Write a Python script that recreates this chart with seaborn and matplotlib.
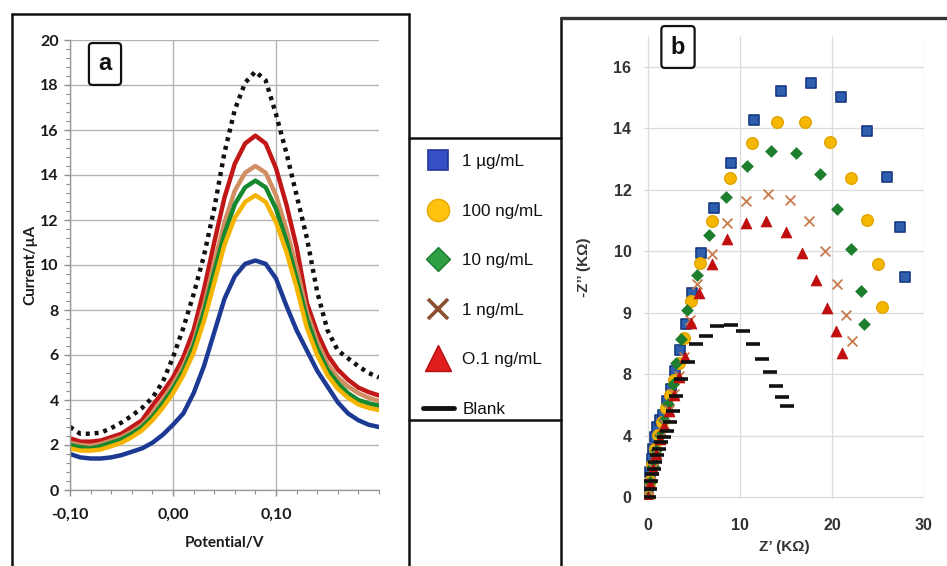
import numpy as np
import pandas as pd
import matplotlib
matplotlib.use('Agg')
import matplotlib.pyplot as plt
from matplotlib.lines import Line2D
from matplotlib.ticker import MultipleLocator
import seaborn as sns

# ---- data: panel a (DPV) ----
series_names = ['1 µg/mL', '100 ng/mL', '10 ng/mL', '1 ng/mL', 'O.1 ng/mL', 'Blank']
potential = [-0.10, -0.09, -0.08, -0.07, -0.06, -0.05, -0.04, -0.03, -0.02, -0.01,
             0.00, 0.01, 0.02, 0.03, 0.04, 0.05, 0.06, 0.07, 0.08, 0.09,
             0.10, 0.11, 0.12, 0.13, 0.14, 0.15, 0.16, 0.17, 0.18, 0.19, 0.20]
cur_1ug = [1.60, 1.45, 1.40, 1.40, 1.45, 1.55, 1.70, 1.85, 2.10, 2.45,
           2.90, 3.40, 4.30, 5.50, 7.00, 8.50, 9.50, 10.05, 10.20, 10.05,
           9.40, 8.20, 7.10, 6.20, 5.30, 4.60, 3.90, 3.40, 3.10, 2.90, 2.80]
cur_100ng = [1.85, 1.75, 1.75, 1.80, 1.95, 2.10, 2.35, 2.65, 3.10, 3.65,
             4.30, 5.10, 6.10, 7.50, 9.20, 10.90, 12.10, 12.80, 13.10, 12.80,
             11.90, 10.60, 9.00, 7.20, 6.00, 5.10, 4.50, 4.10, 3.80, 3.65, 3.55]
cur_10ng = [2.00, 1.90, 1.85, 1.95, 2.10, 2.25, 2.50, 2.80, 3.25, 3.85,
            4.50, 5.30, 6.40, 7.90, 9.70, 11.40, 12.70, 13.45, 13.75, 13.45,
            12.50, 11.10, 9.40, 7.60, 6.30, 5.35, 4.75, 4.30, 4.00, 3.85, 3.75]
cur_1ng = [2.10, 2.00, 1.95, 2.05, 2.20, 2.35, 2.60, 2.90, 3.40, 4.00,
           4.70, 5.50, 6.60, 8.20, 10.10, 11.90, 13.30, 14.10, 14.40, 14.10,
           13.10, 11.60, 9.90, 7.90, 6.60, 5.60, 5.00, 4.60, 4.30, 4.10, 3.95]
cur_01ng = [2.30, 2.15, 2.15, 2.20, 2.35, 2.50, 2.80, 3.10, 3.75, 4.35,
            5.00, 5.90, 7.10, 8.90, 11.00, 13.00, 14.50, 15.40, 15.75, 15.40,
            14.30, 12.70, 10.80, 8.30, 7.00, 6.00, 5.35, 4.90, 4.55, 4.35, 4.20]
cur_blank = [2.80, 2.50, 2.50, 2.55, 2.75, 3.00, 3.30, 3.65, 4.10, 4.80,
             5.90, 7.20, 8.70, 10.40, 12.50, 15.00, 16.90, 18.10, 18.60, 18.20,
             16.70, 15.00, 13.10, 11.20, 8.80, 7.10, 6.20, 5.85, 5.50, 5.20, 5.00]
pot_ticks = [-0.10, 0.00, 0.10]
pot_labels = ['-0,10', '0,00', '0,10']
cur_ticks = [0, 2, 4, 6, 8, 10, 12, 14, 16, 18, 20]

# ---- data: panel b (Nyquist) ----
zre_1ug = [0, 0.1, 0.25, 0.4, 0.55, 0.72, 0.95, 1.25, 1.62, 2.05, 2.52, 2.9, 3.44, 4.09,
           4.82, 5.8, 7.14, 9.06, 11.52, 14.49, 17.75, 21.0, 23.8, 26.0, 27.36, 27.9]
zim_1ug = [0, 0.45, 0.95, 1.4, 1.8, 2.25, 2.6, 2.85, 3.06, 3.56, 4.03, 4.69, 5.48, 6.43,
           7.57, 9.06, 10.74, 12.43, 14.02, 15.08, 15.39, 14.89, 13.6, 11.91, 10.03, 8.18]
zre_100ng = [0, 0.2, 0.45, 0.75, 1.1, 1.5, 1.95, 2.4, 2.85, 3.35, 3.9, 4.71, 5.69, 6.99,
             8.88, 11.3, 14.06, 17.03, 19.82, 22.1, 23.84, 25.0, 25.47]
zim_100ng = [0, 0.6, 1.2, 1.8, 2.3, 2.8, 3.3, 3.8, 4.35, 5.0, 5.9, 7.3, 8.72, 10.27,
             11.86, 13.17, 13.94, 13.96, 13.21, 11.86, 10.3, 8.65, 7.06]
zre_10ng = [0, 0.2, 0.5, 0.85, 1.25, 1.7, 2.2, 2.65, 3.06, 3.6, 4.28, 5.33, 6.63, 8.51,
            10.8, 13.41, 16.12, 18.66, 20.58, 22.1, 23.12, 23.48]
zim_10ng = [0, 0.55, 1.15, 1.75, 2.3, 2.85, 3.45, 4.2, 5.0, 5.89, 6.97, 8.25, 9.73, 11.15,
            12.29, 12.87, 12.79, 12.02, 10.7, 9.22, 7.67, 6.43]
zre_1ng = [0, 0.25, 0.55, 0.9, 1.3, 1.75, 2.25, 2.8, 3.4, 3.95, 4.53, 5.36, 6.96, 8.62,
           10.69, 13.04, 15.4, 17.5, 19.28, 20.58, 21.56, 22.17]
zim_1ng = [0, 0.55, 1.1, 1.65, 2.2, 2.7, 3.25, 3.85, 4.5, 5.2, 6.6, 7.91, 9.02, 10.18,
           11.01, 11.28, 11.05, 10.27, 9.16, 7.91, 6.77, 5.82]
zre_01ng = [0, 0.25, 0.55, 0.9, 1.3, 1.75, 2.25, 2.8, 3.4, 4.0, 4.64, 5.54, 6.92, 8.62,
            10.69, 12.86, 14.96, 16.78, 18.3, 19.49, 20.47, 21.12]
zim_01ng = [0, 0.5, 1.05, 1.6, 2.15, 2.65, 3.2, 3.8, 4.45, 5.2, 6.46, 7.57, 8.65, 9.6,
            10.2, 10.28, 9.84, 9.08, 8.07, 7.03, 6.16, 5.35]
zre_blank = [0.05, 0.15, 0.3, 0.45, 0.6, 0.8, 1.0, 1.2, 1.45, 1.7, 2.0, 2.35, 2.7, 3.05,
             3.6, 4.3, 5.25, 6.3, 7.5, 9.0, 10.3, 11.4, 12.4, 13.3, 13.95, 14.6, 15.1]
zim_blank = [0.0, 0.3, 0.6, 0.85, 1.05, 1.3, 1.55, 1.8, 2.05, 2.25, 2.45, 2.8, 3.2, 3.75,
             4.4, 5.03, 5.69, 6.0, 6.37, 6.4, 6.18, 5.7, 5.15, 4.64, 4.12, 3.73, 3.37]
zre_ticks = [0, 10, 20, 30]
zim_tick_labels = ['0', '4', '8', '9', '10', '12', '14', '16']

# ---- styling ----
dpv_colors = {'1 µg/mL': '#1c3a94', '100 ng/mL': '#f4b400', '10 ng/mL': '#16882e',
              '1 ng/mL': '#d08e62', 'O.1 ng/mL': '#c21717', 'Blank': '#111111'}
dpv_dashes = {'1 µg/mL': '', '100 ng/mL': '', '10 ng/mL': '', '1 ng/mL': '',
              'O.1 ng/mL': '', 'Blank': (0.9, 1.1)}
eis_style = {
    '1 µg/mL':   dict(marker='s', color='#2d5fae', edgecolor='#173a82', s=62, linewidth=1.2),
    '100 ng/mL': dict(marker='o', color='#f5b700', edgecolor='#e3a400', s=70, linewidth=1.0),
    '10 ng/mL':  dict(marker='D', color='#1e7e2f', edgecolor='#1e7e2f', s=36, linewidth=0.5),
    '1 ng/mL':   dict(marker='x', color='#c97b4c', s=50, linewidth=1.3),
    'O.1 ng/mL': dict(marker='^', color='#c00d0d', edgecolor='#c00d0d', s=62, linewidth=0.5),
    'Blank':     dict(marker='_', color='#111111', s=90, linewidth=2.6),
}

sns.set_theme(style='white')
plt.rcParams['font.family'] = ['Liberation Sans', 'DejaVu Sans']

W, H = 947, 566
fig = plt.figure(figsize=(W / 100, H / 100), dpi=100)


def fx(px):
    return px / W


def fy(py):
    return 1 - py / H


# ---------------- panel a ----------------
dpv_values = [cur_1ug, cur_100ng, cur_10ng, cur_1ng, cur_01ng, cur_blank]
rows = []
for name, vals in zip(series_names, dpv_values):
    for p, c in zip(potential, vals):
        rows.append((name, p, c))
dpv = pd.DataFrame(rows, columns=['series', 'potential', 'current'])

axa = fig.add_axes([fx(70), fy(490), fx(379) - fx(70), fy(40) - fy(490)])
sns.lineplot(data=dpv, x='potential', y='current', hue='series', style='series',
             hue_order=series_names[::-1], style_order=series_names[::-1],
             palette=dpv_colors, dashes=dpv_dashes, linewidth=3.2,
             legend=False, sort=False, ax=axa)
axa.set_xlim(-0.10, 0.20)
axa.set_ylim(0, 20)
axa.set_xticks(pot_ticks)
axa.set_xticklabels(pot_labels)
axa.set_yticks(cur_ticks)
axa.xaxis.set_minor_locator(MultipleLocator(0.02))
axa.yaxis.set_minor_locator(MultipleLocator(0.4))
axa.grid(True, which='major', color='#b4b4b4', lw=1.0)
axa.set_axisbelow(True)
for s in ['top', 'right']:
    axa.spines[s].set_visible(False)
for s in ['left', 'bottom']:
    axa.spines[s].set_color('#999999')
    axa.spines[s].set_linewidth(1.0)
axa.tick_params(axis='both', which='both', direction='out', color='#8c8c8c',
                bottom=True, left=True, labelsize=11.5, labelcolor='#1a1a1a')
axa.tick_params(axis='x', pad=9)
axa.tick_params(axis='y', pad=4)
axa.tick_params(which='major', length=4, width=1)
axa.tick_params(which='minor', length=3, width=0.8)
for lab in axa.get_xticklabels() + axa.get_yticklabels():
    lab.set_family(['Lato', 'DejaVu Sans'])
    lab.set_fontweight('bold')
axa.set_xlabel('Potential/V', fontsize=11, fontweight='bold', family=['Lato', 'DejaVu Sans'],
               color='#1a1a1a', labelpad=10)
axa.set_ylabel('Current/µA', fontsize=11, fontweight='bold', family=['Lato', 'DejaVu Sans'],
               color='#1a1a1a', labelpad=2)

# ---------------- panel b ----------------
eis_data = [(zre_1ug, zim_1ug), (zre_100ng, zim_100ng), (zre_10ng, zim_10ng),
            (zre_1ng, zim_1ng), (zre_01ng, zim_01ng), (zre_blank, zim_blank)]
axb = fig.add_axes([fx(644), fy(499), fx(924) - fx(644), fy(36) - fy(499)])
for name, (xr, yi) in zip(series_names, eis_data):
    sns.scatterplot(x=xr, y=yi, ax=axb, legend=False, zorder=3, **eis_style[name])
axb.set_xlim(-0.45, 30)
axb.set_ylim(-0.07, 17.14)
axb.set_xticks(zre_ticks)
zim_pos = [i * 16 / 7 for i in range(len(zim_tick_labels))]
axb.set_yticks(zim_pos)
axb.set_yticklabels(zim_tick_labels)
axb.grid(True, color='#dcdcdc', lw=0.9)
axb.set_axisbelow(True)
for s in axb.spines.values():
    s.set_visible(False)
axb.tick_params(axis='both', length=0, labelsize=11.5, labelcolor='#333333')
axb.tick_params(axis='x', pad=14)
axb.tick_params(axis='y', pad=9)
for lab in axb.get_xticklabels() + axb.get_yticklabels():
    lab.set_fontweight('bold')
axb.set_xlabel('Z’ (KΩ)', fontsize=11, fontweight='bold', color='#333333', labelpad=5)
axb.set_ylabel('-Z’’ (KΩ)', fontsize=11, fontweight='bold', color='#333333', labelpad=16)

# ---------------- panel letters ----------------
for txt, px, py in [('a', 105, 64), ('b', 678, 47)]:
    fig.text(fx(px), fy(py), txt, ha='center', va='center', fontsize=17, fontweight='bold',
             color='#111111',
             bbox=dict(boxstyle='round,pad=0.4,rounding_size=0.15', fc='white', ec='#111111', lw=1.6))

# ---------------- frames ----------------
def hline(y, x0, x1, lw=1.8, color='#111111'):
    fig.add_artist(Line2D([fx(x0), fx(x1)], [fy(y), fy(y)], color=color, lw=lw,
                          transform=fig.transFigure))


def vline(x, y0, y1, lw=1.8, color='#111111'):
    fig.add_artist(Line2D([fx(x), fx(x)], [fy(y0), fy(y1)], color=color, lw=lw,
                          transform=fig.transFigure))


vline(12, 14, 566)
hline(14, 12, 409)
vline(409, 14, 566)
hline(138, 409, 561)
hline(420, 409, 561)
vline(561, 18, 566)
hline(18, 561, 947, lw=2.4, color='#333333')

# ---------------- legend ----------------
handles = [
    Line2D([], [], ls='none', marker='s', ms=14, mfc='#3550c4', mec='#24349a', mew=1.2),
    Line2D([], [], ls='none', marker='o', ms=16, mfc='#ffc20e', mec='#e8a800', mew=1.0),
    Line2D([], [], ls='none', marker='D', ms=12, mfc='#2ea043', mec='#1e7a30', mew=1.0),
    Line2D([], [], ls='none', marker='x', ms=15, mec='#8c5030', mew=2.6),
    Line2D([], [], ls='none', marker='^', ms=19, mfc='#e01e1e', mec='#b51010', mew=1.0),
    Line2D([], [], ls='-', lw=3.5, color='#111111'),
]
fig.legend(handles, series_names, loc='upper left', bbox_to_anchor=(fx(423), fy(154)),
           frameon=False, fontsize=12.3, handlelength=1.8, handletextpad=0.5,
           labelspacing=2.02, borderpad=0, borderaxespad=0, labelcolor='#111111')

fig.savefig('out.png', dpi=100)
